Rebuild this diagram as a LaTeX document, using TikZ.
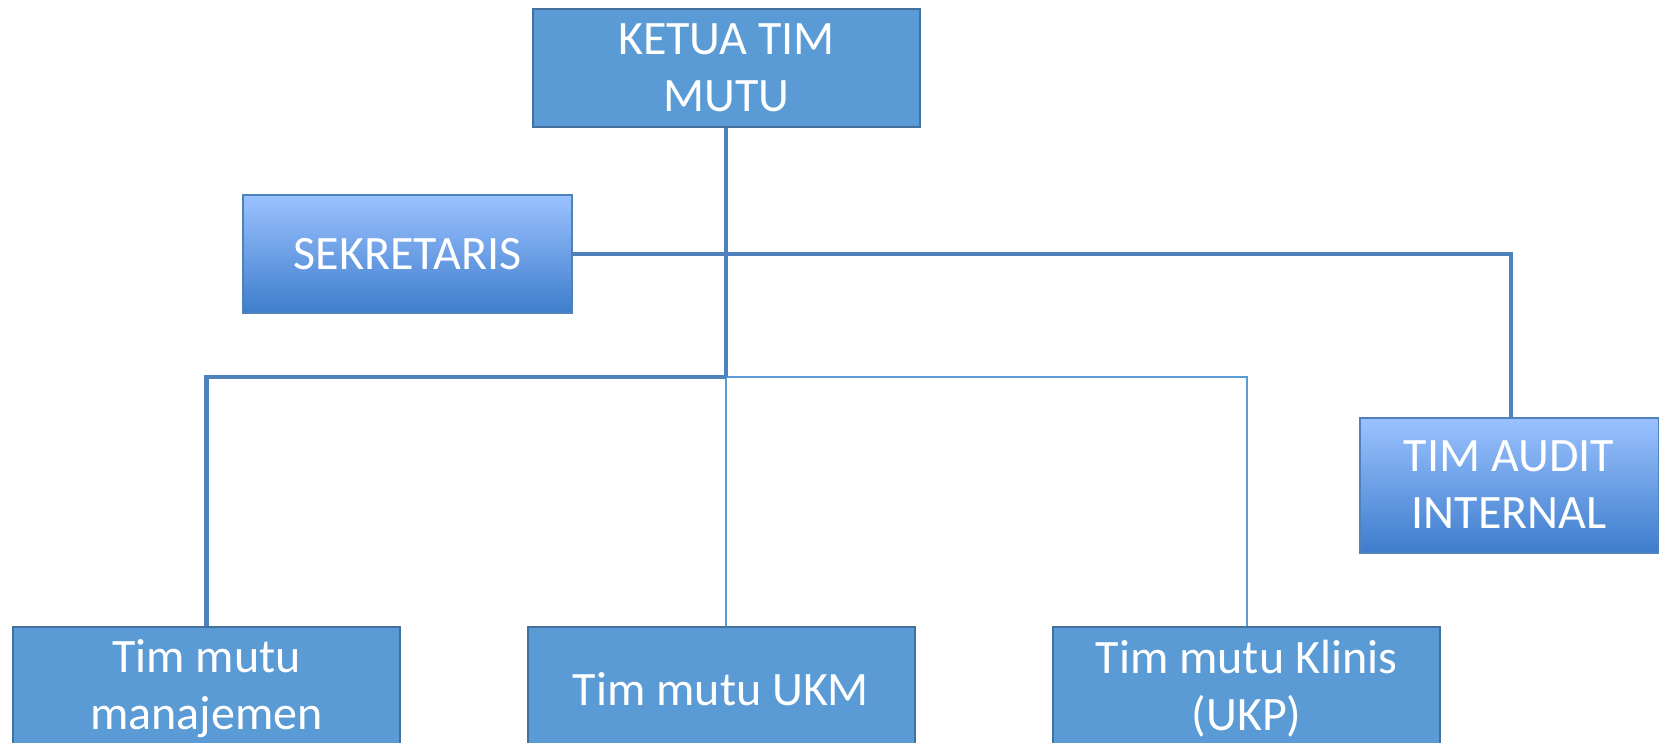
\documentclass[tikz,border=0pt]{standalone}
\usepackage{fontspec}
\setmainfont{Carlito}
\definecolor{boxfill}{RGB}{91,155,213}
\definecolor{boxline}{RGB}{65,113,156}
\definecolor{gradtop}{RGB}{155,194,255}
\definecolor{gradbot}{RGB}{62,125,204}
\definecolor{gradline}{RGB}{79,129,189}
\definecolor{thickline}{RGB}{79,129,189}
\definecolor{thinline}{RGB}{91,155,213}
\begin{document}
\begin{tikzpicture}[x=1pt,y=-1pt,
  plainbox/.style={draw=boxline,line width=2pt,fill=boxfill,text=white,
    minimum width=387pt,minimum height=118pt,align=center,inner sep=0pt,
    font=\fontsize{48}{57}\selectfont},
  gradbox/.style={draw=gradline,line width=2pt,top color=gradtop,bottom color=gradbot,
    text=white,align=center,inner sep=0pt,font=\fontsize{48}{57}\selectfont},
  heavy/.style={draw=thickline,line width=4.5pt},
  light/.style={draw=thinline,line width=2pt}]
\useasboundingbox (0,0) rectangle (1659,742);
\node[plainbox] (ketua) at (726.5,68) {KETUA TIM\\MUTU};
\node[gradbox,minimum width=329pt,minimum height=118pt] (sek) at (407.5,254) {SEKRETARIS};
\node[gradbox,minimum width=299pt,minimum height=135pt] (audit) at (1509,485) {TIM AUDIT\\INTERNAL};
\node[plainbox,minimum height=124pt] (man) at (206.5,689) {Tim mutu\\manajemen};
\node[plainbox,minimum height=124pt] (ukm) at (721,689) {Tim mutu UKM};
\node[plainbox,minimum height=124pt] (klin) at (1246.5,689) {Tim mutu Klinis\\(UKP)};
\coordinate (hub) at (726,377);
\draw[light] (hub) -| (klin.north);
\draw[light] (hub) -- (ukm.north -| hub);
\draw[heavy] (sek.east) -| (audit.north -| 1511,0);
\draw[heavy] (ketua.south -| hub) -- (hub);
\draw[heavy] (hub) -| (man.north);
\end{tikzpicture}
\end{document}
